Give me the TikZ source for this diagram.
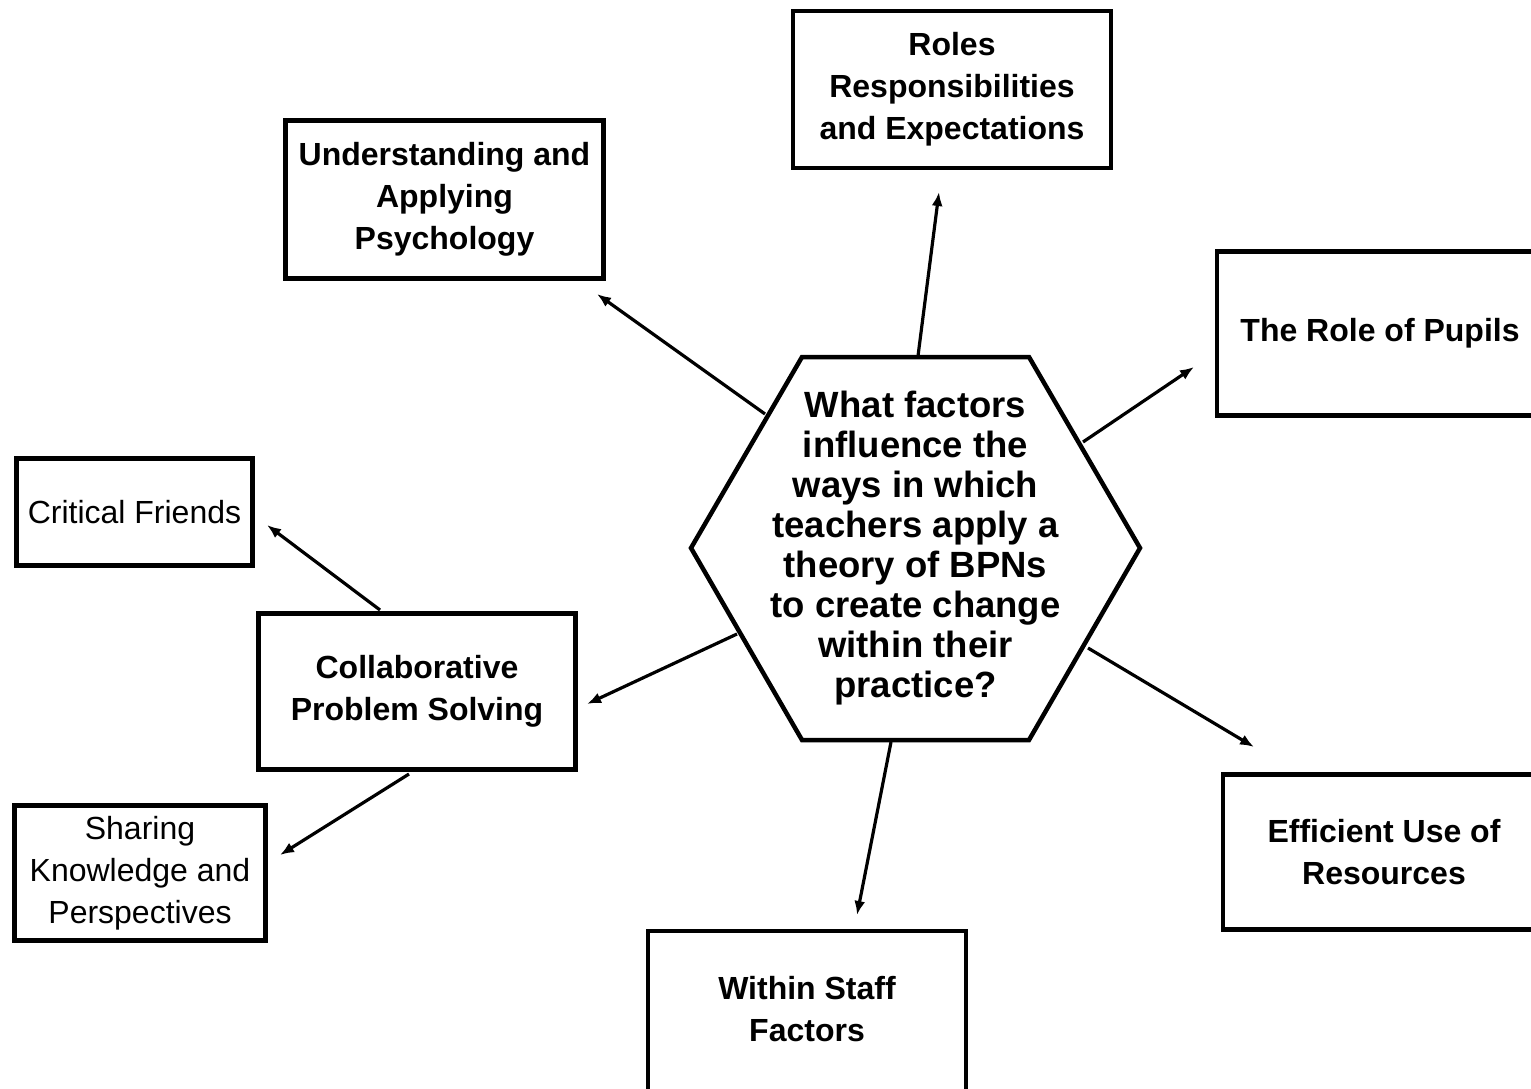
\documentclass[tikz,border=0pt]{standalone}
\usepackage{fontspec}
\setmainfont{Liberation Sans}
\usetikzlibrary{arrows.meta}
\begin{document}
\begin{tikzpicture}[x=1pt,y=-1pt,
  box/.style={draw,line width=4.5pt,inner sep=0pt,align=center,
    font=\fontsize{32}{42}\selectfont\bfseries},
  plainbox/.style={box,font=\fontsize{32}{42}\selectfont},
  conn/.style={line width=3.2pt,-{Latex[length=14pt,width=11pt]}}
]
\useasboundingbox (0,0) rectangle (1531,1089);
\fill[white] (0,0) rectangle (1531,1089);

% boxes
\node[box,minimum width=318pt,minimum height=157pt] (roles) at (952,89.5)
  {Roles\\Responsibilities\\and Expectations};
\node[box,minimum width=318pt,minimum height=158pt] (psych) at (444.5,199.5)
  {Understanding and\\Applying\\Psychology};
\node[box,minimum width=326pt,minimum height=164pt] (pupils) at (1380,333.5)
  {The Role of Pupils};
\node[plainbox,minimum width=236pt,minimum height=107pt] (critical) at (134.5,512)
  {Critical Friends};
\node[box,minimum width=317pt,minimum height=156pt] (collab) at (417,691.5)
  {Collaborative\\Problem Solving};
\node[plainbox,minimum width=251pt,minimum height=135pt] (sharing) at (140,873)
  {Sharing\\Knowledge and\\Perspectives};
\node[box,minimum width=322pt,minimum height=155pt] (efficient) at (1384,852)
  {Efficient Use of\\Resources};
\node[box,minimum width=318pt,minimum height=180pt,text depth=24pt] (staff) at (807,1021)
  {Within Staff\\Factors};

% hexagon
\coordinate (h1) at (802,357);
\coordinate (h2) at (1029,357);
\coordinate (h3) at (1140,548);
\coordinate (h4) at (1029,740);
\coordinate (h5) at (802,740);
\coordinate (h6) at (691,548);
\draw[line width=4.5pt,line join=miter] (h1)--(h2)--(h3)--(h4)--(h5)--(h6)--cycle;
\node[align=center,inner sep=0pt,font=\fontsize{36.5}{40}\selectfont\bfseries] (hex) at (915.5,548)
  {What factors\\influence the\\ways in which\\teachers apply a\\theory of BPNs\\to create change\\within their\\practice?};

% connector end points
\coordinate (s1) at (918,356);  \coordinate (e1) at (939,192);
\coordinate (s2) at (765,414);  \coordinate (e2) at (597,294);
\coordinate (s3) at (1083,442); \coordinate (e3) at (1194,367);
\coordinate (s4) at (737,634);  \coordinate (e4) at (587,704);
\coordinate (s5) at (1088,648); \coordinate (e5) at (1254,747);
\coordinate (s6) at (891,742);  \coordinate (e6) at (857,915);
\coordinate (s7) at (380,610);  \coordinate (e7) at (267,525);
\coordinate (s8) at (409,774);  \coordinate (e8) at (280,855);

\draw[conn] (s1) -- (e1);
\draw[conn] (s2) -- (e2);
\draw[conn] (s3) -- (e3);
\draw[conn] (s4) -- (e4);
\draw[conn] (s5) -- (e5);
\draw[conn] (s6) -- (e6);
\draw[conn] (s7) -- (e7);
\draw[conn] (s8) -- (e8);
\end{tikzpicture}
\end{document}
